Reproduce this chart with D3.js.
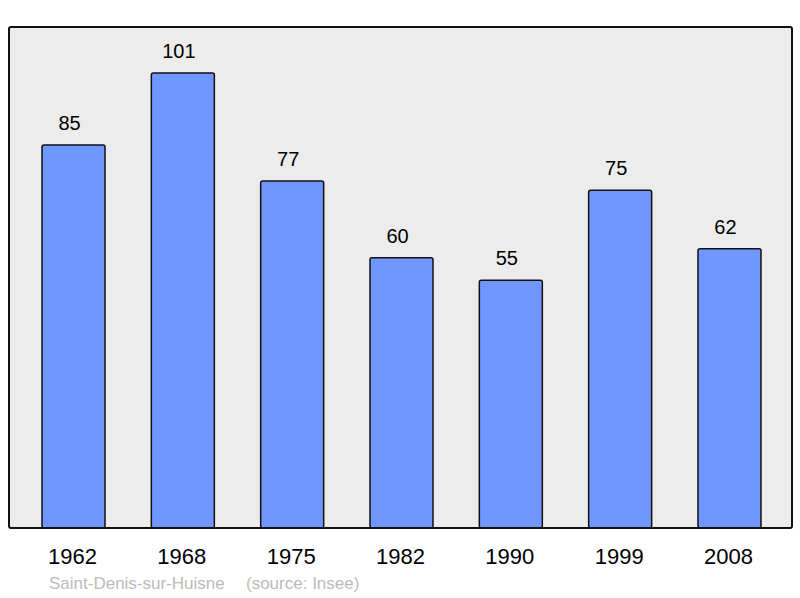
<!DOCTYPE html>
<html>
<head>
<meta charset="utf-8">
<script src="https://cdn.jsdelivr.net/npm/d3@7"></script>
<style>
  body { margin: 0; background: #fff; }
  text { font-family: "Liberation Sans", Arial, sans-serif; }
</style>
</head>
<body>
<svg id="chart" width="800" height="598"></svg>
<script>
// population data
var years = ["1962", "1968", "1975", "1982", "1990", "1999", "2008"];
var population = [85, 101, 77, 60, 55, 75, 62];
var commune = "Saint-Denis-sur-Huisne";
var source = "(source: Insee)";

var svg = d3.select("#chart");

var panel = { left: 9, right: 792, top: 27, bottom: 528 };

var x = d3.scaleBand()
    .domain(years)
    .range([panel.left + 1, panel.right + 1])
    .paddingInner(0.4237)
    .paddingOuter(0.2928);

var y = d3.scaleLinear()
    .domain([0, 101])
    .range([panel.bottom, 73]);

svg.append("rect")
    .attr("x", panel.left)
    .attr("y", panel.top)
    .attr("width", panel.right - panel.left)
    .attr("height", panel.bottom - panel.top)
    .attr("rx", 2)
    .attr("fill", "#ececec");

var data = years.map(function(d, i) { return { year: d, value: population[i] }; });

svg.selectAll("rect.bar")
    .data(data)
    .enter().append("rect")
        .attr("class", "bar")
        .attr("x", function(d) { return x(d.year); })
        .attr("y", function(d) { return y(d.value); })
        .attr("width", x.bandwidth())
        .attr("height", function(d) { return y(0) - y(d.value); })
        .attr("rx", 2)
        .attr("fill", "#7097ff")
        .attr("stroke", "#111")
        .attr("stroke-width", 1.5);

// value labels sit a little left of the bar centre
svg.selectAll("text.val")
    .data(data)
    .enter().append("text")
        .attr("class", "val")
        .attr("x", function(d) { return x(d.year) + x.bandwidth() / 2 - 4; })
        .attr("y", function(d) { return y(d.value) - 15; })
        .attr("text-anchor", "middle")
        .attr("font-size", 20)
        .attr("fill", "#000")
        .text(function(d) { return d.value; });

// frame on top
svg.append("rect")
    .attr("x", panel.left)
    .attr("y", panel.top)
    .attr("width", panel.right - panel.left)
    .attr("height", panel.bottom - panel.top)
    .attr("rx", 2)
    .attr("fill", "none")
    .attr("stroke", "#111")
    .attr("stroke-width", 2);

var xAxis = svg.append("g")
    .attr("transform", "translate(0," + panel.bottom + ")")
    .call(d3.axisBottom(x).tickSize(0).tickPadding(20));
xAxis.select(".domain").remove();
xAxis.selectAll("text")
    .attr("font-size", 22)
    .attr("font-family", "Liberation Sans, Arial, sans-serif")
    .attr("fill", "#000")
    .attr("dx", -1);

svg.append("text")
    .attr("x", 49)
    .attr("y", 589)
    .attr("font-size", 17)
    .attr("fill", "#bbb")
    .text(commune);

svg.append("text")
    .attr("x", 246)
    .attr("y", 589)
    .attr("font-size", 17)
    .attr("fill", "#bbb")
    .text(source);
</script>
</body>
</html>
